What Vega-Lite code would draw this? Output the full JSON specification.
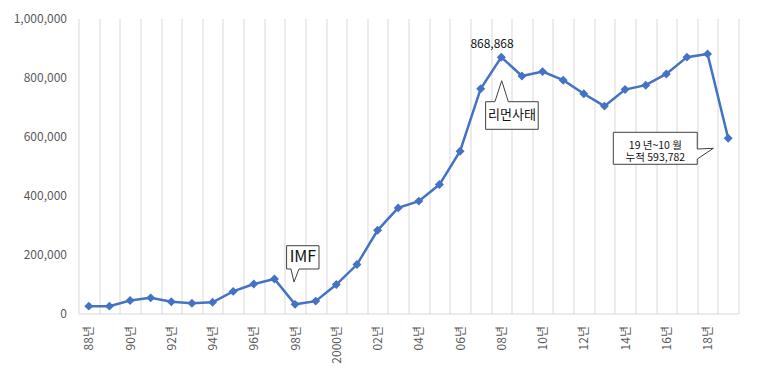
{
  "$schema": "https://vega.github.io/schema/vega-lite/v6.json",
  "width": 660,
  "height": 295,
  "autosize": {"type": "none"},
  "padding": {"left": 78.5, "top": 18.5, "right": 21.5, "bottom": 62.5},
  "background": "white",
  "config": {"view": {"stroke": null}, "font": "Noto Sans CJK KR"},
  "datasets": {
    "series": [
      {"year": 1988, "value": 25000}, {"year": 1989, "value": 25000}, {"year": 1990, "value": 44000},
      {"year": 1991, "value": 53000}, {"year": 1992, "value": 40000}, {"year": 1993, "value": 35000},
      {"year": 1994, "value": 38000}, {"year": 1995, "value": 75000}, {"year": 1996, "value": 100000},
      {"year": 1997, "value": 117000}, {"year": 1998, "value": 31000}, {"year": 1999, "value": 42000},
      {"year": 2000, "value": 98000}, {"year": 2001, "value": 166000}, {"year": 2002, "value": 282000},
      {"year": 2003, "value": 358000}, {"year": 2004, "value": 381000}, {"year": 2005, "value": 437000},
      {"year": 2006, "value": 550000}, {"year": 2007, "value": 762000}, {"year": 2008, "value": 868868},
      {"year": 2009, "value": 805000}, {"year": 2010, "value": 820000}, {"year": 2011, "value": 791000},
      {"year": 2012, "value": 745000}, {"year": 2013, "value": 703000}, {"year": 2014, "value": 759000},
      {"year": 2015, "value": 774000}, {"year": 2016, "value": 812000}, {"year": 2017, "value": 869000},
      {"year": 2018, "value": 880000}, {"year": 2019, "value": 593782}
    ],
    "callouts": [
      {"id": "IMF", "ord": 1, "px": 1997.59, "py": 229800},
      {"id": "IMF", "ord": 2, "px": 1999.16, "py": 229800},
      {"id": "IMF", "ord": 3, "px": 1999.16, "py": 150850},
      {"id": "IMF", "ord": 4, "px": 1998.19, "py": 150850},
      {"id": "IMF", "ord": 5, "px": 1997.95, "py": 106800},
      {"id": "IMF", "ord": 6, "px": 1997.80, "py": 150850},
      {"id": "IMF", "ord": 7, "px": 1997.59, "py": 150850},
      {"id": "IMF", "ord": 8, "px": 1997.59, "py": 229800},
      {"id": "LEH", "ord": 1, "px": 2007.24, "py": 718000},
      {"id": "LEH", "ord": 2, "px": 2007.69, "py": 718000},
      {"id": "LEH", "ord": 3, "px": 2008.02, "py": 789100},
      {"id": "LEH", "ord": 4, "px": 2008.34, "py": 718000},
      {"id": "LEH", "ord": 5, "px": 2009.79, "py": 718000},
      {"id": "LEH", "ord": 6, "px": 2009.79, "py": 624400},
      {"id": "LEH", "ord": 7, "px": 2007.24, "py": 624400},
      {"id": "LEH", "ord": 8, "px": 2007.24, "py": 718000},
      {"id": "CUM", "ord": 1, "px": 2013.43, "py": 614200},
      {"id": "CUM", "ord": 2, "px": 2017.50, "py": 614200},
      {"id": "CUM", "ord": 3, "px": 2017.50, "py": 557600},
      {"id": "CUM", "ord": 4, "px": 2018.28, "py": 560000},
      {"id": "CUM", "ord": 5, "px": 2017.50, "py": 523700},
      {"id": "CUM", "ord": 6, "px": 2017.50, "py": 505800},
      {"id": "CUM", "ord": 7, "px": 2013.43, "py": 505800},
      {"id": "CUM", "ord": 8, "px": 2013.43, "py": 614200}
    ],
    "notes": [
      {"kind": "imf", "note": "IMF", "nx": 1998.38, "ny": 190500},
      {"kind": "leh", "note": "리먼사태", "nx": 2008.52, "ny": 671200},
      {"kind": "cum", "note": "19 년~10 월\n누적 593,782", "nx": 2015.47, "ny": 566200},
      {"kind": "peak", "note": "868,868", "nx": 2007.55, "ny": 913600}
    ]
  },
  "layer": [
    {
      "data": {"name": "series"},
      "mark": {"type": "line", "color": "#4472C4", "strokeWidth": 2.5},
      "encoding": {
        "x": {
          "field": "year", "type": "quantitative",
          "scale": {"domain": [1987.5, 2019.5], "nice": false, "zero": false},
          "axis": {
            "orient": "bottom",
            "title": null, "labels": false, "ticks": false,
            "grid": true, "gridColor": "#d9d9d9", "gridWidth": 1,
            "domain": true, "domainColor": "#d9d9d9", "domainWidth": 1,
            "values": [1987.5, 1988.5, 1989.5, 1990.5, 1991.5, 1992.5, 1993.5, 1994.5, 1995.5, 1996.5, 1997.5, 1998.5, 1999.5, 2000.5, 2001.5, 2002.5, 2003.5, 2004.5, 2005.5, 2006.5, 2007.5, 2008.5, 2009.5, 2010.5, 2011.5, 2012.5, 2013.5, 2014.5, 2015.5, 2016.5, 2017.5, 2018.5, 2019.5]
          }
        },
        "y": {
          "field": "value", "type": "quantitative",
          "scale": {"domain": [0, 1000000], "nice": false},
          "axis": {
            "orient": "left",
            "title": null, "grid": false, "domain": false, "ticks": false,
            "values": [0, 200000, 400000, 600000, 800000, 1000000],
            "format": ",.0f", "labelPadding": 12, "labelColor": "#595959",
            "labelFontSize": 12, "labelFont": "Noto Sans CJK KR"
          }
        }
      }
    },
    {
      "data": {"name": "series"},
      "mark": {"type": "point", "shape": "diamond", "filled": true, "size": 80, "color": "#4472C4", "opacity": 1},
      "encoding": {
        "x": {
          "field": "year", "type": "quantitative",
          "axis": {
            "orient": "bottom",
            "title": null, "grid": false, "ticks": false, "domain": false,
            "values": [1988, 1990, 1992, 1994, 1996, 1998, 2000, 2002, 2004, 2006, 2008, 2010, 2012, 2014, 2016, 2018],
            "labelExpr": "(datum.value == 2000 ? '2000' : substring(toString(datum.value), 2, 4)) + '년'",
            "labelAngle": -90, "labelAlign": "right", "labelBaseline": "middle",
            "labelPadding": 12, "labelColor": "#595959", "labelFontSize": 12,
            "labelFont": "Noto Sans CJK KR", "labelOverlap": false, "labelFlush": false
          }
        },
        "y": {"field": "value", "type": "quantitative", "axis": null}
      }
    },
    {
      "data": {"name": "callouts"},
      "mark": {"type": "line", "fill": "white", "stroke": "#404040", "strokeWidth": 1, "interpolate": "linear"},
      "encoding": {
        "x": {"field": "px", "type": "quantitative", "axis": null},
        "y": {"field": "py", "type": "quantitative", "axis": null},
        "order": {"field": "ord", "type": "quantitative"},
        "detail": {"field": "id", "type": "nominal"}
      }
    },
    {
      "data": {"name": "notes"},
      "transform": [{"filter": "datum.kind == 'imf'"}],
      "mark": {"type": "text", "fontSize": 16, "color": "#111111", "align": "center", "baseline": "middle"},
      "encoding": {
        "x": {"field": "nx", "type": "quantitative", "axis": null},
        "y": {"field": "ny", "type": "quantitative", "axis": null},
        "text": {"field": "note"}
      }
    },
    {
      "data": {"name": "notes"},
      "transform": [{"filter": "datum.kind == 'leh'"}],
      "mark": {"type": "text", "fontSize": 13, "color": "#111111", "align": "center", "baseline": "middle"},
      "encoding": {
        "x": {"field": "nx", "type": "quantitative", "axis": null},
        "y": {"field": "ny", "type": "quantitative", "axis": null},
        "text": {"field": "note"}
      }
    },
    {
      "data": {"name": "notes"},
      "transform": [{"filter": "datum.kind == 'cum'"}],
      "mark": {"type": "text", "fontSize": 10.5, "lineBreak": "\n", "lineHeight": 11.5, "color": "#111111", "align": "center", "baseline": "middle"},
      "encoding": {
        "x": {"field": "nx", "type": "quantitative", "axis": null},
        "y": {"field": "ny", "type": "quantitative", "axis": null},
        "text": {"field": "note"}
      }
    },
    {
      "data": {"name": "notes"},
      "transform": [{"filter": "datum.kind == 'peak'"}],
      "mark": {"type": "text", "fontSize": 12, "color": "#111111", "align": "center", "baseline": "middle"},
      "encoding": {
        "x": {"field": "nx", "type": "quantitative", "axis": null},
        "y": {"field": "ny", "type": "quantitative", "axis": null},
        "text": {"field": "note"}
      }
    }
  ],
  "resolve": {"axis": {"x": "independent", "y": "independent"}}
}
